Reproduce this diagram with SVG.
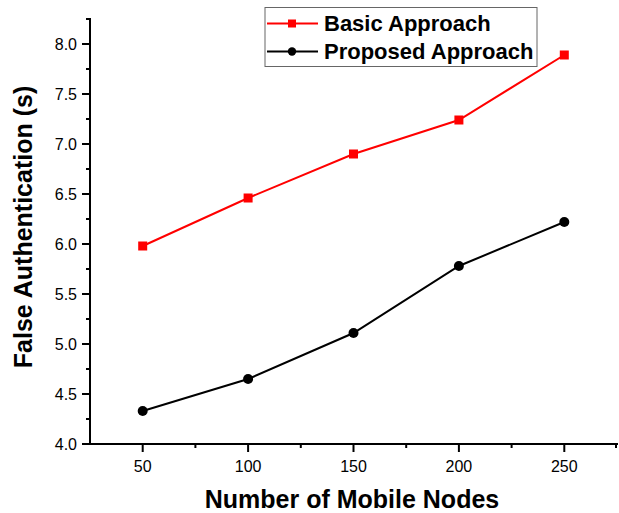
<svg xmlns="http://www.w3.org/2000/svg" width="619" height="513" viewBox="0 0 619 513">
  <style>
    .axis { stroke: #000; stroke-width: 2; fill: none; stroke-linecap: square; }
    .tick { stroke: #000; stroke-width: 2; }
    .tl { font-family: "Liberation Sans", Arial, sans-serif; font-size: 16px; fill: #000; }
    .title { font-family: "Liberation Sans", Arial, sans-serif; font-size: 25px; font-weight: bold; fill: #000; }
    .leg { font-family: "Liberation Sans", Arial, sans-serif; font-size: 22px; font-weight: bold; fill: #000; }
    .basic { stroke: #ff0000; stroke-width: 2; fill: none; }
    .proposed { stroke: #000; stroke-width: 2; fill: none; }
  </style>
  <defs>
    <rect id="sq" x="-4.5" y="-4.5" width="9" height="9" fill="#ff0000"/>
    <circle id="dot" r="5" fill="#000"/>
  </defs>
  <rect width="619" height="513" fill="#fff"/>

  <!-- axes -->
  <g id="axes">
    <path class="axis" d="M90,19 V444 H617"/>
    <!-- y ticks: major every 0.5, minor between -->
    <g class="tick">
      <line x1="82" y1="444" x2="90" y2="444"/>
      <line x1="86" y1="419" x2="90" y2="419"/>
      <line x1="82" y1="394" x2="90" y2="394"/>
      <line x1="86" y1="369" x2="90" y2="369"/>
      <line x1="82" y1="344" x2="90" y2="344"/>
      <line x1="86" y1="319" x2="90" y2="319"/>
      <line x1="82" y1="294" x2="90" y2="294"/>
      <line x1="86" y1="269" x2="90" y2="269"/>
      <line x1="82" y1="244" x2="90" y2="244"/>
      <line x1="86" y1="219" x2="90" y2="219"/>
      <line x1="82" y1="194" x2="90" y2="194"/>
      <line x1="86" y1="169" x2="90" y2="169"/>
      <line x1="82" y1="144" x2="90" y2="144"/>
      <line x1="86" y1="119" x2="90" y2="119"/>
      <line x1="82" y1="94" x2="90" y2="94"/>
      <line x1="86" y1="69" x2="90" y2="69"/>
      <line x1="82" y1="44" x2="90" y2="44"/>
      <line x1="86" y1="19" x2="90" y2="19"/>
    </g>
    <!-- x ticks -->
    <g class="tick">
      <line x1="142.7" y1="444" x2="142.7" y2="452"/>
      <line x1="195.4" y1="444" x2="195.4" y2="448"/>
      <line x1="248.1" y1="444" x2="248.1" y2="452"/>
      <line x1="300.8" y1="444" x2="300.8" y2="448"/>
      <line x1="353.5" y1="444" x2="353.5" y2="452"/>
      <line x1="406.2" y1="444" x2="406.2" y2="448"/>
      <line x1="458.9" y1="444" x2="458.9" y2="452"/>
      <line x1="511.6" y1="444" x2="511.6" y2="448"/>
      <line x1="564.3" y1="444" x2="564.3" y2="452"/>
      <line x1="616" y1="444" x2="616" y2="448"/>
    </g>
    <g class="tl" text-anchor="end">
      <text x="77" y="450">4.0</text>
      <text x="77" y="400">4.5</text>
      <text x="77" y="350">5.0</text>
      <text x="77" y="300">5.5</text>
      <text x="77" y="250">6.0</text>
      <text x="77" y="200">6.5</text>
      <text x="77" y="150">7.0</text>
      <text x="77" y="100">7.5</text>
      <text x="77" y="50">8.0</text>
    </g>
    <g class="tl" text-anchor="middle">
      <text x="142.7" y="472">50</text>
      <text x="248.1" y="472">100</text>
      <text x="353.5" y="472">150</text>
      <text x="458.9" y="472">200</text>
      <text x="564.3" y="472">250</text>
    </g>
    <text class="title" x="352" y="508" text-anchor="middle">Number of Mobile Nodes</text>
    <text class="title" transform="translate(31.5,227) rotate(-90)" text-anchor="middle">False Authentication (s)</text>
  </g>

  <!-- data series -->
  <g id="connectors">
    <polyline class="basic" points="142.7,246 248.1,198 353.5,154 458.9,120 564.3,55"/>
    <polyline class="proposed" points="142.7,411 248.1,379 353.5,333 458.9,266 564.3,222"/>
  </g>
  <g id="basic-points">
    <use href="#sq" x="142.7" y="246"/>
    <use href="#sq" x="248.1" y="198"/>
    <use href="#sq" x="353.5" y="154"/>
    <use href="#sq" x="458.9" y="120"/>
    <use href="#sq" x="564.3" y="55"/>
  </g>
  <g id="proposed-points">
    <use href="#dot" x="142.7" y="411"/>
    <use href="#dot" x="248.1" y="379"/>
    <use href="#dot" x="353.5" y="333"/>
    <use href="#dot" x="458.9" y="266"/>
    <use href="#dot" x="564.3" y="222"/>
  </g>

  <!-- legend -->
  <g id="legend">
    <rect x="265" y="7.5" width="272" height="59" fill="#fff" stroke="#666" stroke-width="1"/>
    <line class="basic" x1="267" y1="23.5" x2="318" y2="23.5"/>
    <rect x="288" y="19.5" width="8" height="8" fill="#ff0000"/>
    <text class="leg" x="324" y="31">Basic Approach</text>
    <line class="proposed" x1="267" y1="51.5" x2="318" y2="51.5"/>
    <circle cx="292" cy="51.5" r="4.2" fill="#000"/>
    <text class="leg" x="324" y="59.3">Proposed Approach</text>
  </g>
</svg>
